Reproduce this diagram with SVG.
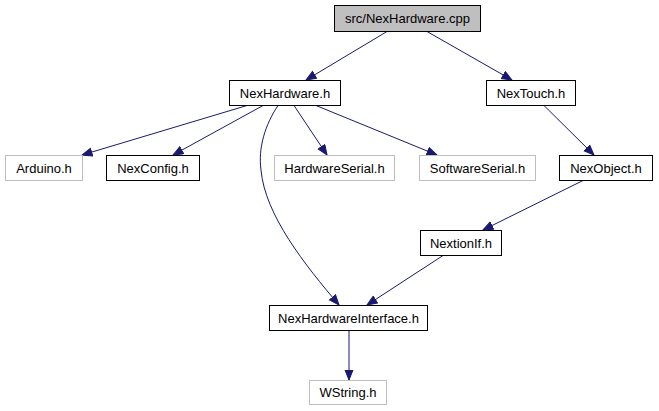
<svg xmlns="http://www.w3.org/2000/svg" width="659" height="411" viewBox="0 0 659 411">
<style>
  rect { stroke-width: 1; }
  .n rect { fill: #ffffff; stroke: #000000; }
  .g rect { fill: #ffffff; stroke: #bfbfbf; }
  .root rect { fill: #bfbfbf; stroke: #000000; }
  text { font-family: "Liberation Sans", Arial, sans-serif; font-size: 13px; fill: #000000; text-anchor: middle; }
  .e path { fill: none; stroke: #191970; stroke-width: 1; marker-end: url(#arr); }
</style>
<defs>
  <marker id="arr" markerUnits="userSpaceOnUse" markerWidth="12" markerHeight="10" refX="10.5" refY="4.5" orient="auto">
    <path d="M0.5,0.5 L10.5,4.5 L0.5,8.5 z" fill="#191970" stroke="#191970" stroke-width="1"/>
  </marker>
</defs>
<rect width="659" height="411" fill="#ffffff"/>
<g id="edges" class="e">
  <path d="M387,31.5 L306,80"/>
  <path d="M427,31.5 L512,80"/>
  <path d="M247,105.5 L82,155"/>
  <path d="M263,105.5 L173,155"/>
  <path d="M294,105.5 L327,155"/>
  <path d="M316,105.5 L437,155"/>
  <path d="M278,105.5 C265,125 258,148 261,170 C265,215 305,265 339,305"/>
  <path d="M544,105.5 L594,155"/>
  <path d="M583,180.5 L483,230"/>
  <path d="M443,255.5 L367,305"/>
  <path d="M349,330.5 L349,380"/>
</g>
<g id="node_cpp" class="root"><rect x="334.5" y="5.5" width="146" height="26"/><text x="407.5" y="23">src/NexHardware.cpp</text></g>
<g id="node_nexhardware_h" class="n"><rect x="229.5" y="80.5" width="111" height="25"/><text x="285" y="97.5">NexHardware.h</text></g>
<g id="node_nextouch_h" class="n"><rect x="486.5" y="80.5" width="89" height="25"/><text x="531" y="97.5">NexTouch.h</text></g>
<g id="node_arduino_h" class="g"><rect x="5.5" y="155.5" width="77" height="25"/><text x="44" y="172.5">Arduino.h</text></g>
<g id="node_nexconfig_h" class="n"><rect x="106.5" y="155.5" width="93" height="25"/><text x="153" y="172.5">NexConfig.h</text></g>
<g id="node_hardwareserial_h" class="g"><rect x="274.5" y="155.5" width="120" height="25"/><text x="334.5" y="172.5">HardwareSerial.h</text></g>
<g id="node_softwareserial_h" class="g"><rect x="419.5" y="155.5" width="116" height="25"/><text x="477.5" y="172.5">SoftwareSerial.h</text></g>
<g id="node_nexobject_h" class="n"><rect x="559.5" y="155.5" width="93" height="25"/><text x="606" y="172.5">NexObject.h</text></g>
<g id="node_nextionif_h" class="n"><rect x="420.5" y="230.5" width="81" height="25"/><text x="461" y="247.5">NextionIf.h</text></g>
<g id="node_nexhardwareinterface_h" class="n"><rect x="269.5" y="305.5" width="158" height="25"/><text x="348.5" y="322.5">NexHardwareInterface.h</text></g>
<g id="node_wstring_h" class="g"><rect x="309.5" y="380.5" width="77" height="24"/><text x="348" y="397">WString.h</text></g>
</svg>
